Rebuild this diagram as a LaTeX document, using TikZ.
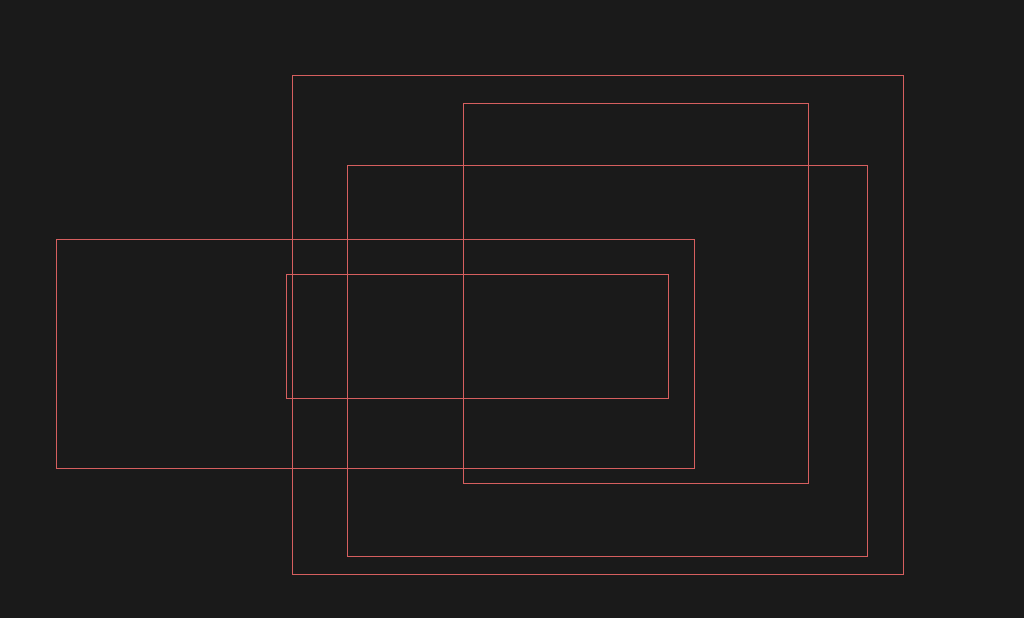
\documentclass[tikz,border=0pt]{standalone}
\usepackage{xcolor}
\usepackage{tikz}
\usetikzlibrary{positioning}
\definecolor{frBack}{HTML}{1A1A1A}
\definecolor{frLine}{HTML}{D65F5F}
\tikzset{
  frame/.style={draw=frLine, line width=1pt}
}

\begin{document}
\begin{tikzpicture}[x=1pt, y=-1pt]
  \fill[frBack] (0,0) rectangle (1024,618);
  \useasboundingbox (0,0) rectangle (1024,618);
  \foreach \xa/\ya/\xb/\yb in {292/75/903/574, 463/103/808/483, 347/165/867/556,
    56/239/694/468, 286/274/668/398}{
    \draw[frame] (\xa+0.5,\ya+0.5) rectangle (\xb+0.5,\yb+0.5);
  }
\end{tikzpicture}
\end{document}
